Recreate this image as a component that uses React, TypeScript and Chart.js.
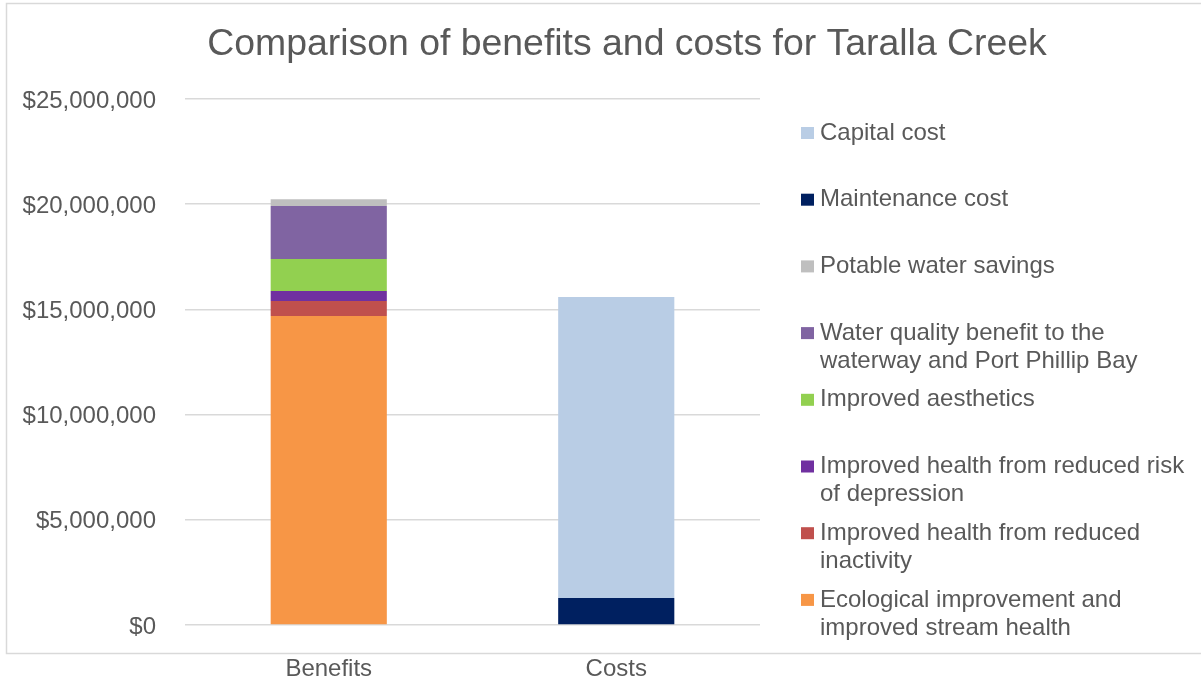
import React, { useEffect, useRef } from "react";
import { Chart, registerables } from "chart.js";

Chart.register(...registerables);

const TITLE = "Comparison of benefits and costs for Taralla Creek";
const categories = ["Benefits", "Costs"];

const seriesNames = [
  "Ecological improvement and improved stream health",
  "Improved health from reduced inactivity",
  "Improved health from reduced risk of depression",
  "Improved aesthetics",
  "Water quality benefit to the waterway and Port Phillip Bay",
  "Potable water savings",
  "Maintenance cost",
  "Capital cost",
];

const ecological = [14690000, 0];
const inactivity = [710000, 0];
const depression = [470000, 0];
const aesthetics = [1530000, 0];
const waterQuality = [2510000, 0];
const potable = [330000, 0];
const maintenance = [0, 1280000];
const capital = [0, 14310000];

const seriesValues = [ecological, inactivity, depression, aesthetics, waterQuality, potable, maintenance, capital];
const seriesColors = ["#F79646", "#C0504D", "#7030A0", "#92D050", "#8064A2", "#BFBFBF", "#002060", "#B9CDE5"];

const yTicks = [0, 5000000, 10000000, 15000000, 20000000, 25000000];

const TEXT = "#595959";
const GRID = "#D9D9D9";
const FONT = "'Liberation Sans', Arial, sans-serif";

function wrap(ctx: CanvasRenderingContext2D, text: string, maxW: number): string[] {
  const words = text.split(" ");
  const lines: string[] = [];
  let cur = "";
  for (const w of words) {
    const t = cur ? cur + " " + w : w;
    if (ctx.measureText(t).width > maxW && cur) {
      lines.push(cur);
      cur = w;
    } else cur = t;
  }
  if (cur) lines.push(cur);
  return lines;
}

const decorPlugin = {
  id: "decor",
  beforeDraw(chart: any) {
    const ctx = chart.ctx as CanvasRenderingContext2D;
    ctx.save();
    ctx.fillStyle = "#FFFFFF";
    ctx.fillRect(0, 0, chart.width, chart.height);
    ctx.strokeStyle = GRID;
    ctx.lineWidth = 1.5;
    ctx.strokeRect(6.5, 3.5, 1200, 650);
    ctx.restore();
  },
  afterDraw(chart: any) {
    const ctx = chart.ctx as CanvasRenderingContext2D;
    ctx.save();
    ctx.fillStyle = TEXT;
    ctx.font = `37.4px ${FONT}`;
    ctx.textAlign = "center";
    ctx.textBaseline = "middle";
    ctx.fillText(TITLE, 627, 45);

    // legend, reversed order
    ctx.font = `24px ${FONT}`;
    ctx.textAlign = "left";
    const ds = chart.data.datasets;
    let slot = 0;
    for (let i = ds.length - 1; i >= 0; i--) {
      const y0 = 133 + slot * 66.7;
      ctx.fillStyle = ds[i].backgroundColor;
      ctx.fillRect(801, y0 - 6, 13, 12);
      ctx.fillStyle = TEXT;
      const lines = wrap(ctx, ds[i].label, 375);
      lines.forEach((ln, k) => ctx.fillText(ln, 820, y0 + k * 28));
      slot++;
    }
    ctx.restore();
  },
};

export default function App() {
  const ref = useRef<HTMLCanvasElement | null>(null);
  useEffect(() => {
    document.body.style.margin = "0";
    const chart = new Chart(ref.current as HTMLCanvasElement, {
      type: "bar",
      data: {
        labels: categories,
        datasets: seriesNames.map((n, i) => ({
          label: n,
          data: seriesValues[i],
          backgroundColor: seriesColors[i],
          borderWidth: 0,
          categoryPercentage: 1,
          barPercentage: 0.404,
        })),
      },
      options: {
        animation: false,
        responsive: false,
        devicePixelRatio: 1,
        layout: { padding: { top: 99, right: 441, bottom: 0, left: 0 } },
        plugins: {
          legend: { display: false },
          title: { display: false },
          tooltip: { enabled: false },
        },
        scales: {
          x: {
            stacked: true,
            grid: { display: false, drawTicks: false },
            border: { display: false },
            ticks: { color: TEXT, font: { family: FONT, size: 24 }, padding: 30 },
            afterFit: (s: any) => { s.height = 58; },
          },
          y: {
            stacked: true,
            min: 0,
            max: 25000000,
            afterBuildTicks: (s: any) => { s.ticks = yTicks.map((v) => ({ value: v })); },
            grid: { color: GRID, lineWidth: 1.5, drawTicks: false },
            border: { display: false },
            ticks: {
              color: TEXT,
              font: { family: FONT, size: 24 },
              padding: 29,
              labelOffset: 2,
              callback: (v: any) => "$" + Number(v).toLocaleString("en-US"),
            },
            afterFit: (s: any) => { s.width = 185; },
          },
        },
      },
      plugins: [decorPlugin],
    });
    return () => chart.destroy();
  }, []);
  return (
    <div style={{ position: "absolute", left: 0, top: 0, width: 1201, height: 683 }}>
      <canvas ref={ref} width={1201} height={683} style={{ display: "block" }} />
    </div>
  );
}
